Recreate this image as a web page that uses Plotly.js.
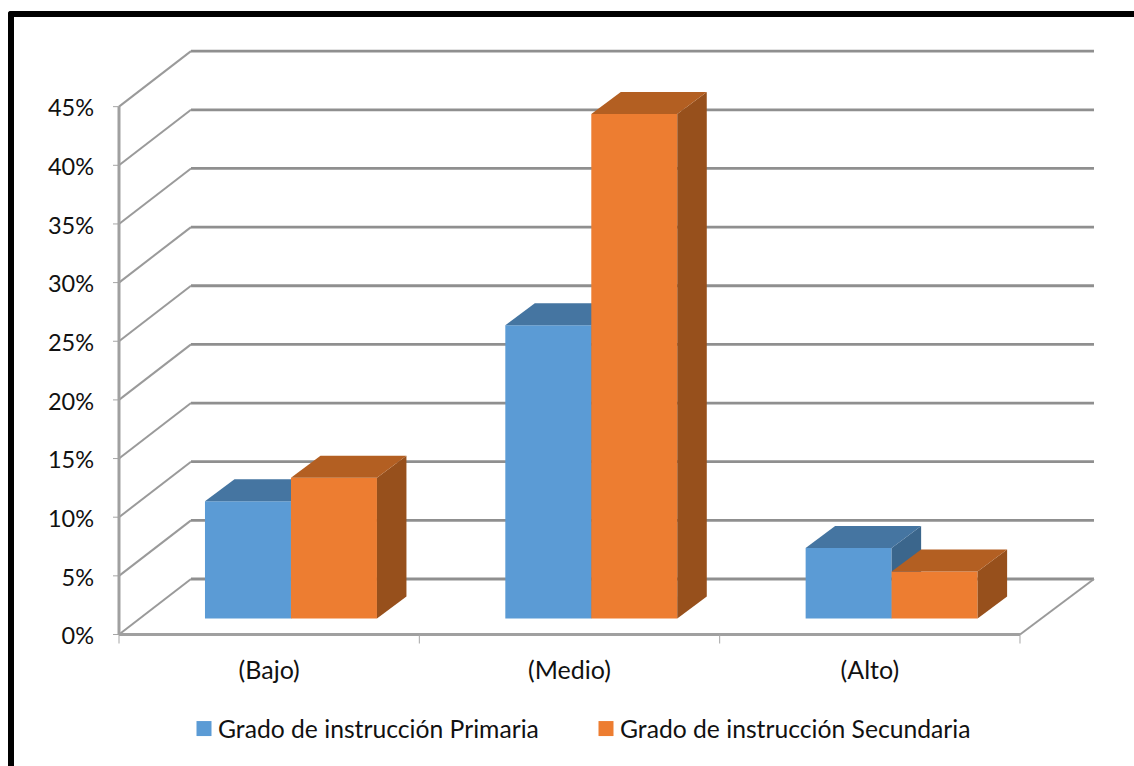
<!DOCTYPE html>
<html>
<head>
<meta charset="utf-8">
<script src="https://cdn.plot.ly/plotly-3.0.1.min.js"></script>
<style>
  html, body { margin: 0; padding: 0; background: #fff; overflow: hidden; }
  #chart { width: 1134px; height: 766px; }
  #frame { position: absolute; left: 8px; top: 11px; width: 1300px; height: 900px;
           border-left: 6px solid #000; border-top: 6px solid #000;
           border-top-left-radius: 3px; pointer-events: none; }
</style>
</head>
<body>
<div id="chart"></div>
<div id="frame"></div>
<script>
// Survey results: level of schooling by category
const categories = ['(Bajo)', '(Medio)', '(Alto)'];
const primaria = [10, 25, 6];
const secundaria = [12, 43, 4];
const seriesNames = ['Grado de instrucción Primaria', 'Grado de instrucción Secundaria'];
const yTicks = [0, 5, 10, 15, 20, 25, 30, 35, 40, 45];

// Scale of the drawing area
const W = 1134, H = 766;
const L = 112, R = 1100, T = 44, B = 648;
const originX = 119, originY = 634.5;
const unitX = 300.33, unitY = 11.73;

// Oblique projection: the wall sits wallX/wallY behind the front plane
const wallX = 72 / unitX, wallY = 55.5 / unitY;
const wallEnd = 2 / unitX;                // the back wall runs slightly past the front edge
const floorDepth = 16 / unitY;            // height of the bar foot above the front axis
const barStart = 0.2863, barW = 0.2863;   // bar offset inside a category, bar width
const boxX = 29.5 / unitX, boxY = 22 / unitY;

const xRange = [(L - originX) / unitX, (R - originX) / unitX];
const yRange = [-(B - originY) / unitY, (originY - T) / unitY];

const GRID = '#8f8f8f';
const blue = { front: '#5B9BD5', top: '#4575A1', side: '#3B668C' };
const orange = { front: '#ED7D31', top: '#B35F22', side: '#97501C' };

function line(x0, y0, x1, y1, color, width) {
  return { type: 'line', layer: 'below', xref: 'x', yref: 'y', x0, y0, x1, y1,
           line: { color, width } };
}

// Walls, floor and ticks of the box
const nCat = categories.length;
const shapes = [];
yTicks.forEach(v => {
  shapes.push(line(wallX, v + wallY, nCat + wallX + wallEnd, v + wallY, GRID, 2.8));
  shapes.push(line(0, v, wallX, v + wallY, '#9a9a9a', 2));
  shapes.push(line(-6 / unitX, v, 0, v, '#a6a6a6', 1));
});
shapes.push(line(nCat, 0, nCat + wallX + wallEnd, wallY, '#9a9a9a', 2));
shapes.push(line(0, 0, 0, yTicks[yTicks.length - 1], '#a0a0a0', 3));
shapes.push(line(0, 0, nCat, 0, '#a0a0a0', 3));
for (let i = 0; i <= nCat; i++) {
  shapes.push(line(i, 0, i, -9 / unitY, '#a6a6a6', 1));
}

// Front faces are bars; the top and side faces are filled polygons fixed to them
function barTrace(name, values, offset, colors, xa, ya) {
  return {
    type: 'bar', name, xaxis: xa, yaxis: ya,
    x: values.map((_, i) => i + offset + barW / 2),
    y: values,
    base: values.map(() => floorDepth),
    width: barW,
    marker: { color: colors.front, line: { width: 0 } },
    hoverinfo: 'y'
  };
}
function faces(values, offset, colors, xa, ya) {
  const out = [];
  values.forEach((v, i) => {
    const x0 = i + offset, x1 = x0 + barW;
    const y0 = floorDepth, y1 = floorDepth + v;
    const poly = (xs, ys, fill) => out.push({
      type: 'scatter', mode: 'lines', xaxis: xa, yaxis: ya, x: xs, y: ys,
      fill: 'toself', fillcolor: fill, line: { width: 0, color: fill },
      showlegend: false, hoverinfo: 'skip'
    });
    poly([x1, x1 + boxX, x1 + boxX, x1, x1],
         [y0, y0 + boxY, y1 + boxY, y1, y0], colors.side);
    poly([x0, x0 + boxX, x1 + boxX, x1, x0],
         [y1, y1 + boxY, y1 + boxY, y1, y1], colors.top);
  });
  return out;
}

const data = [
  barTrace(seriesNames[0], primaria, barStart, blue, 'x', 'y'),
  ...faces(primaria, barStart, blue, 'x', 'y'),
  barTrace(seriesNames[1], secundaria, barStart + barW, orange, 'x2', 'y2'),
  ...faces(secundaria, barStart + barW, orange, 'x2', 'y2')
];

const FONT = 'Lato, Carlito, Calibri, sans-serif';
const TEXT = '#111';
const layout = {
  width: W, height: H,
  margin: { l: L, r: W - R, t: T, b: H - B, pad: 0 },
  paper_bgcolor: '#fff', plot_bgcolor: '#fff',
  font: { family: FONT, size: 24, color: TEXT },
  barmode: 'overlay',
  showlegend: true,
  legend: {
    orientation: 'h', xanchor: 'left', yanchor: 'middle',
    x: (178 - L) / (R - L), y: -(729 - B) / (B - T),
    entrywidth: 357, entrywidthmode: 'pixels',
    bgcolor: 'rgba(0,0,0,0)', font: { family: FONT, size: 24.7, color: TEXT },
    itemclick: false, itemdoubleclick: false
  },
  xaxis: {
    range: xRange, fixedrange: true, showgrid: false, zeroline: false, showline: false,
    tickmode: 'array', tickvals: categories.map((_, i) => i + 0.5), ticktext: categories,
    tickfont: { family: FONT, size: 25, color: TEXT },
    ticks: '', ticklabelstandoff: 5, automargin: false
  },
  yaxis: {
    range: yRange, fixedrange: true, showgrid: false, zeroline: false, showline: false,
    tickmode: 'array', tickvals: yTicks, ticktext: yTicks.map(v => v + '%'),
    tickfont: { family: FONT, size: 23.5, color: TEXT },
    ticks: '', ticklabelstandoff: 17, automargin: false
  },
  xaxis2: { range: xRange, overlaying: 'x', visible: false, fixedrange: true },
  yaxis2: { range: yRange, overlaying: 'y', visible: false, fixedrange: true },
  shapes
};

Plotly.newPlot('chart', data, layout, { displayModeBar: false }).then(() => {
  // Tighter, slightly larger legend keys next to their labels
  document.querySelectorAll('.legend .legendpoints path').forEach(p => {
    p.setAttribute('transform', 'translate(26,0) scale(1.25)');
  });
  // Percent labels sit a little below their tick
  document.querySelectorAll('.ytick text').forEach(t => t.setAttribute('dy', '1.5'));
});
</script>
</body>
</html>
